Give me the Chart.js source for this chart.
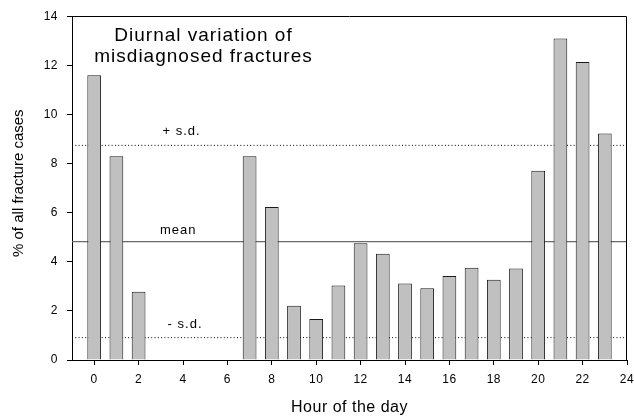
<!DOCTYPE html>
<html><head><meta charset="utf-8">
<script src="https://cdn.jsdelivr.net/npm/chart.js@4.4.1/dist/chart.umd.min.js"></script>
<style>html,body{margin:0;padding:0;background:#fff;}#wrap{width:634px;height:417px;}</style>
</head><body><div id="wrap"><canvas id="c" width="634" height="417"></canvas></div>
<script>
// ---- data ----
const hours = [0,1,2,3,4,5,6,7,8,9,10,11,12,13,14,15,16,17,18,19,20,21,22,23];
const percentCases = [11.6, 8.3, 2.78, 0, 0, 0, 0, 8.3, 6.23, 2.21, 1.67, 3.03, 4.75, 4.33, 3.12, 2.92, 3.42, 3.76, 3.27, 3.73, 7.71, 13.09, 12.13, 9.22];
const xTicks = [0,2,4,6,8,10,12,14,16,18,20,22,24];
const yTicks = [0,2,4,6,8,10,12,14];
const meanValue = 4.82;
const plusSD = 8.74;
const minusSD = 0.91;
const refLabels = ['+ s.d.', 'mean', '- s.d.'];
const refValues = [plusSD, meanValue, minusSD];
const titleLines = ['Diurnal variation of', 'misdiagnosed fractures'];
const xTitle = 'Hour of the day';
const yTitle = '% of all fracture cases';
const xRange = [-1, 24];
const yRange = [0, 14];

// ---- rendering ----
const FONT = '"Liberation Sans", Arial, Helvetica, sans-serif';
const refAnchors = [3.91, 3.76, 4.07];   // hour positions of the line labels
const refOffsets = [10, 8, 10];          // px above the line

const decor = {
  id: 'decor',
  beforeDraw(chart) { chart.ctx.letterSpacing = '0.5px'; },
  afterDraw(chart) {
    const {ctx, chartArea: a, scales: {x, y}} = chart;
    ctx.save();
    ctx.letterSpacing = '0px';
    ctx.strokeStyle = '#000';
    ctx.lineWidth = 1;
    ctx.beginPath();
    ctx.moveTo(Math.round(a.left) + 0.5, Math.round(a.top) + 0.5);
    ctx.lineTo(Math.round(a.right) - 0.5, Math.round(a.top) + 0.5);
    ctx.lineTo(Math.round(a.right) - 0.5, Math.round(a.bottom) + 0.5);
    ctx.stroke();

    ctx.fillStyle = '#000';
    // y title
    ctx.save();
    ctx.font = '15px ' + FONT;
    ctx.translate(19, a.top + 167);
    ctx.rotate(-Math.PI / 2);
    ctx.textAlign = 'center';
    ctx.textBaseline = 'middle';
    ctx.fillText(yTitle, 0, 0);
    ctx.restore();

    ctx.letterSpacing = '1px';
    // title
    ctx.font = '19px ' + FONT;
    ctx.textAlign = 'center';
    ctx.textBaseline = 'alphabetic';
    ctx.fillText(titleLines[0], a.left + 131.5, a.top + 25);
    ctx.fillText(titleLines[1], a.left + 131.5, a.top + 46);

    // reference line labels
    ctx.font = '13px ' + FONT;
    refLabels.forEach((t, i) => {
      ctx.fillText(t, x.getPixelForValue(refAnchors[i]) + 0.5, y.getPixelForValue(refValues[i]) - refOffsets[i]);
    });
    ctx.restore();
  }
};

const refLine = (v, color, width, dash, order) => ({
  type: 'line',
  data: [{x: xRange[0], y: v}, {x: xRange[1], y: v}],
  borderColor: color,
  borderWidth: width,
  borderDash: dash,
  pointRadius: 0,
  fill: false,
  order: order
});

new Chart(document.getElementById('c'), {
  type: 'bar',
  data: {
    datasets: [
      {
        type: 'bar',
        data: hours.map((h, i) => ({x: h, y: percentCases[i]})),
        backgroundColor: '#c0c0c0',
        borderColor: '#1a1a1a',
        borderWidth: 1,
        barPercentage: 0.62,
        categoryPercentage: 1,
        order: 0
      },
      refLine(plusSD, '#000', 1, [1, 2.3], 1),
      refLine(meanValue, '#6a6a6a', 1.4, [], 2),
      refLine(minusSD, '#000', 1, [1, 2.3], 3)
    ]
  },
  options: {
    responsive: false,
    animation: false,
    events: [],
    layout: {padding: {top: 16, right: 7, left: 0, bottom: 0}},
    plugins: {legend: {display: false}, tooltip: {enabled: false}, title: {display: false}},
    scales: {
      x: {
        type: 'linear',
        min: xRange[0], max: xRange[1],
        offset: false,
        afterBuildTicks: s => { s.ticks = xTicks.map(v => ({value: v})); },
        afterFit: s => { s.height = 57; s.paddingLeft = 0; s.paddingRight = 0; },
        grid: {drawOnChartArea: false, drawTicks: true, tickLength: 5, color: '#000', offset: false},
        border: {display: true, color: '#000', width: 1},
        ticks: {color: '#000', font: {family: FONT, size: 12}, padding: 7, maxRotation: 0, autoSkip: false},
        title: {display: true, text: xTitle, color: '#000', font: {family: FONT, size: 16}, padding: {top: 0, bottom: 0}}
      },
      y: {
        min: yRange[0], max: yRange[1],
        afterBuildTicks: s => { s.ticks = yTicks.map(v => ({value: v})); },
        afterFit: s => { s.width = 72; },
        grid: {drawOnChartArea: false, drawTicks: true, tickLength: 5, color: '#000'},
        border: {display: true, color: '#000', width: 1},
        ticks: {color: '#000', font: {family: FONT, size: 12}, padding: 9}
      }
    }
  },
  plugins: [decor]
});
</script>
</body></html>
